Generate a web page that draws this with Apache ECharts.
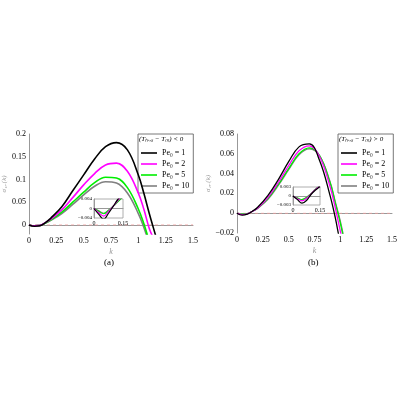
<!DOCTYPE html><html><head><meta charset="utf-8">
<script src="https://cdn.jsdelivr.net/npm/echarts@6/dist/echarts.min.js"></script>
<style>html,body{margin:0;background:#fff}#c{width:400px;height:400px}</style></head><body><div id="c"></div>
<script>
const seriesNames=['Pe₀ = 1','Pe₀ = 2','Pe₀ = 5','Pe₀ = 10'];
const colors=['#000000','#ff00ff','#00ee00','#808080'];
const kA=[0,0.05,0.1,0.15,0.2,0.3,0.4,0.5,0.6,0.7,0.8,0.9,1.0,1.05,1.1,1.13,1.16];
const aBlack=[0,-0.003,-0.002,0.005,0.015,0.04,0.075,0.11,0.145,0.172,0.181,0.165,0.11,0.07,0.025,0,-0.025];
const aMag=[0,-0.002,-0.001,0.005,0.013,0.033,0.06,0.088,0.113,0.132,0.136,0.118,0.07,0.035,-0.008,-0.025,-0.04];
const aGreen=[0,-0.002,-0.001,0.004,0.011,0.028,0.05,0.072,0.093,0.105,0.103,0.082,0.035,0.003,-0.035,-0.05,-0.06];
const aGrey=[0,-0.002,-0.001,0.004,0.010,0.025,0.045,0.066,0.085,0.095,0.092,0.07,0.025,-0.005,-0.04,-0.055,-0.065];
const kB=[0,0.05,0.1,0.15,0.2,0.3,0.4,0.5,0.6,0.7,0.8,0.9,0.95,1.0,1.05];
const bBlack=[0,-0.002,-0.001,0.002,0.006,0.018,0.034,0.052,0.067,0.07,0.053,0.018,-0.004,-0.03,-0.05];
const bMag=[0,-0.0015,-0.0007,0.002,0.005,0.016,0.031,0.048,0.063,0.068,0.057,0.027,0.006,-0.018,-0.04];
const bGreen=[0,-0.001,-0.0005,0.002,0.005,0.015,0.029,0.045,0.06,0.066,0.058,0.031,0.011,-0.01,-0.035];
const bGrey=[0,-0.001,-0.0005,0.002,0.005,0.014,0.028,0.044,0.059,0.065,0.058,0.032,0.012,-0.008,-0.033];
const kIn=[0,0.025,0.05,0.075,0.1,0.125,0.15];
const iaBlack=[0,-0.0025,-0.0045,-0.002,0.001,0.004,0.006];
const iaMag=[0,-0.0018,-0.0032,-0.0012,0.001,0.0035,0.0055];
const iaGreen=[0,-0.0012,-0.0022,-0.0008,0.001,0.003,0.005];
const iaGrey=[0,-0.001,-0.002,-0.0007,0.001,0.003,0.005];
const ibBlack=[0,-0.0012,-0.0024,-0.0015,0.0005,0.002,0.0032];
const ibMag=[0,-0.0009,-0.0016,-0.0008,0.0007,0.0022,0.0033];
const ibGreen=[0,-0.0007,-0.0012,-0.0005,0.0008,0.0023,0.0034];
const ibGrey=[0,-0.0007,-0.0012,-0.0005,0.0008,0.0023,0.0034];
const yTicksA=[0,0.05,0.1,0.15,0.2];
const F='Liberation Serif';
const ax={axisLine:{lineStyle:{color:'#999'}},axisTick:{show:false},splitLine:{show:false},axisLabel:{color:'#000',fontFamily:F,fontSize:8,margin:3}};
function xa(g,min,max,interval,extra){return Object.assign({type:'value',gridIndex:g,min,max,interval},JSON.parse(JSON.stringify(ax)),extra||{});}
function ya(g,min,max,interval,fmt,extra){const o=Object.assign({type:'value',gridIndex:g,min,max,interval},JSON.parse(JSON.stringify(ax)),extra||{});o.axisLabel.formatter=fmt;return o;}
const fmtNum=v=>{const s=String(+(+v).toFixed(4));return s.replace('-','−');};
function mk(xs,ys,i,g,name,lw){return {type:'line',name,xAxisIndex:g,yAxisIndex:g,data:xs.map((x,j)=>[x,ys[j]]),smooth:0.4,showSymbol:false,clip:true,lineStyle:{color:colors[i],width:lw},itemStyle:{color:colors[i]},z:10-i};}
const zeroLine=g=>({type:'line',xAxisIndex:g,yAxisIndex:g,data:[[0,0],[1.5,0]],showSymbol:false,lineStyle:{color:'#f4a0a0',type:[3,3],width:0.7},silent:true,z:1});
const series=[zeroLine(0),zeroLine(1)];
[aBlack,aMag,aGreen,aGrey].forEach((d,i)=>series.push(mk(kA,d,i,0,seriesNames[i],1.6)));
[bBlack,bMag,bGreen,bGrey].forEach((d,i)=>series.push(mk(kB,d,i,1,seriesNames[i],1.3)));
[iaBlack,iaMag,iaGreen,iaGrey].forEach((d,i)=>series.push(mk(kIn,d,i,2,'',1.2)));
[ibBlack,ibMag,ibGreen,ibGrey].forEach((d,i)=>series.push(mk(kIn,d,i,3,'',1.2)));
const chart=echarts.init(document.getElementById('c'));
const legItem={icon:'path://M0,0H10V1H0Z',itemWidth:16,itemHeight:2,itemGap:3,textStyle:{fontFamily:F,fontSize:8,color:'#000',width:30},borderColor:'#555',borderWidth:0.8,backgroundColor:'#fff',orient:'vertical',padding:[15,4,3,3]};
const small={...ax,axisLabel:{...ax.axisLabel,fontSize:6,margin:2}};
const ya0=ya(0,-0.02,0.2,0.05,fmtNum,{name:'σ₁,ᵣ(k)',nameLocation:'middle',nameGap:18,nameTextStyle:{fontFamily:F,fontStyle:'italic',fontSize:7}});
ya0.axisLabel.customValues=yTicksA;
chart.setOption({
 animation:false,
 grid:[{left:29,top:134,width:164,height:100},{left:237,top:134,width:158,height:99},
  {left:94,top:199,width:29,height:19,backgroundColor:'#fff',show:true,borderColor:'#999',borderWidth:0.8,z:5},
  {left:293,top:187,width:27,height:18,backgroundColor:'#fff',show:true,borderColor:'#999',borderWidth:0.8,z:5}],
 xAxis:[xa(0,0,1.5,0.25,{name:'k',nameLocation:'middle',nameGap:14,nameTextStyle:{fontFamily:F,fontStyle:'italic',fontSize:8}}),
  xa(1,0,1.5,0.25,{name:'k',nameLocation:'middle',nameGap:14,nameTextStyle:{fontFamily:F,fontStyle:'italic',fontSize:8}}),
  Object.assign({type:'value',gridIndex:2,min:0,max:0.15,interval:0.15,z:6},JSON.parse(JSON.stringify(small))),
  Object.assign({type:'value',gridIndex:3,min:0,max:0.15,interval:0.15,z:6},JSON.parse(JSON.stringify(small)))],
 yAxis:[ya0,
  ya(1,-0.02,0.08,0.02,fmtNum,{name:'σ₁,ᵣ(k)',nameLocation:'middle',nameGap:22,nameTextStyle:{fontFamily:F,fontStyle:'italic',fontSize:7}}),
  Object.assign({type:'value',gridIndex:2,min:-0.004,max:0.004,interval:0.004,z:6},JSON.parse(JSON.stringify(small)),{axisLabel:{fontSize:5,margin:2,fontFamily:F,color:'#000',formatter:fmtNum}}),
  Object.assign({type:'value',gridIndex:3,min:-0.003,max:0.003,interval:0.003,z:6},JSON.parse(JSON.stringify(small)),{axisLabel:{fontSize:5,margin:2,fontFamily:F,color:'#000',formatter:fmtNum}})],
 legend:[{...legItem,left:138,top:134,data:seriesNames.map(n=>({name:n})),},
  {...legItem,left:338,top:134,data:seriesNames.map(n=>({name:n}))}],
 graphic:[{type:'text',left:139,top:136,z:100,style:{text:'(Tₕᵢ,ₛ − Tₘ) < 0',font:'italic 7px Liberation Serif',fill:'#000'}},
  {type:'text',left:339,top:136,z:100,style:{text:'(Tₕᵢ,ₛ − Tₘ) > 0',font:'italic 7px Liberation Serif',fill:'#000'}},
  {type:'text',left:104,top:258,style:{text:'(a)',font:'9px Liberation Serif',fill:'#000'}},
  {type:'text',left:308,top:258,style:{text:'(b)',font:'9px Liberation Serif',fill:'#000'}}],
 series
});
</script></body></html>
